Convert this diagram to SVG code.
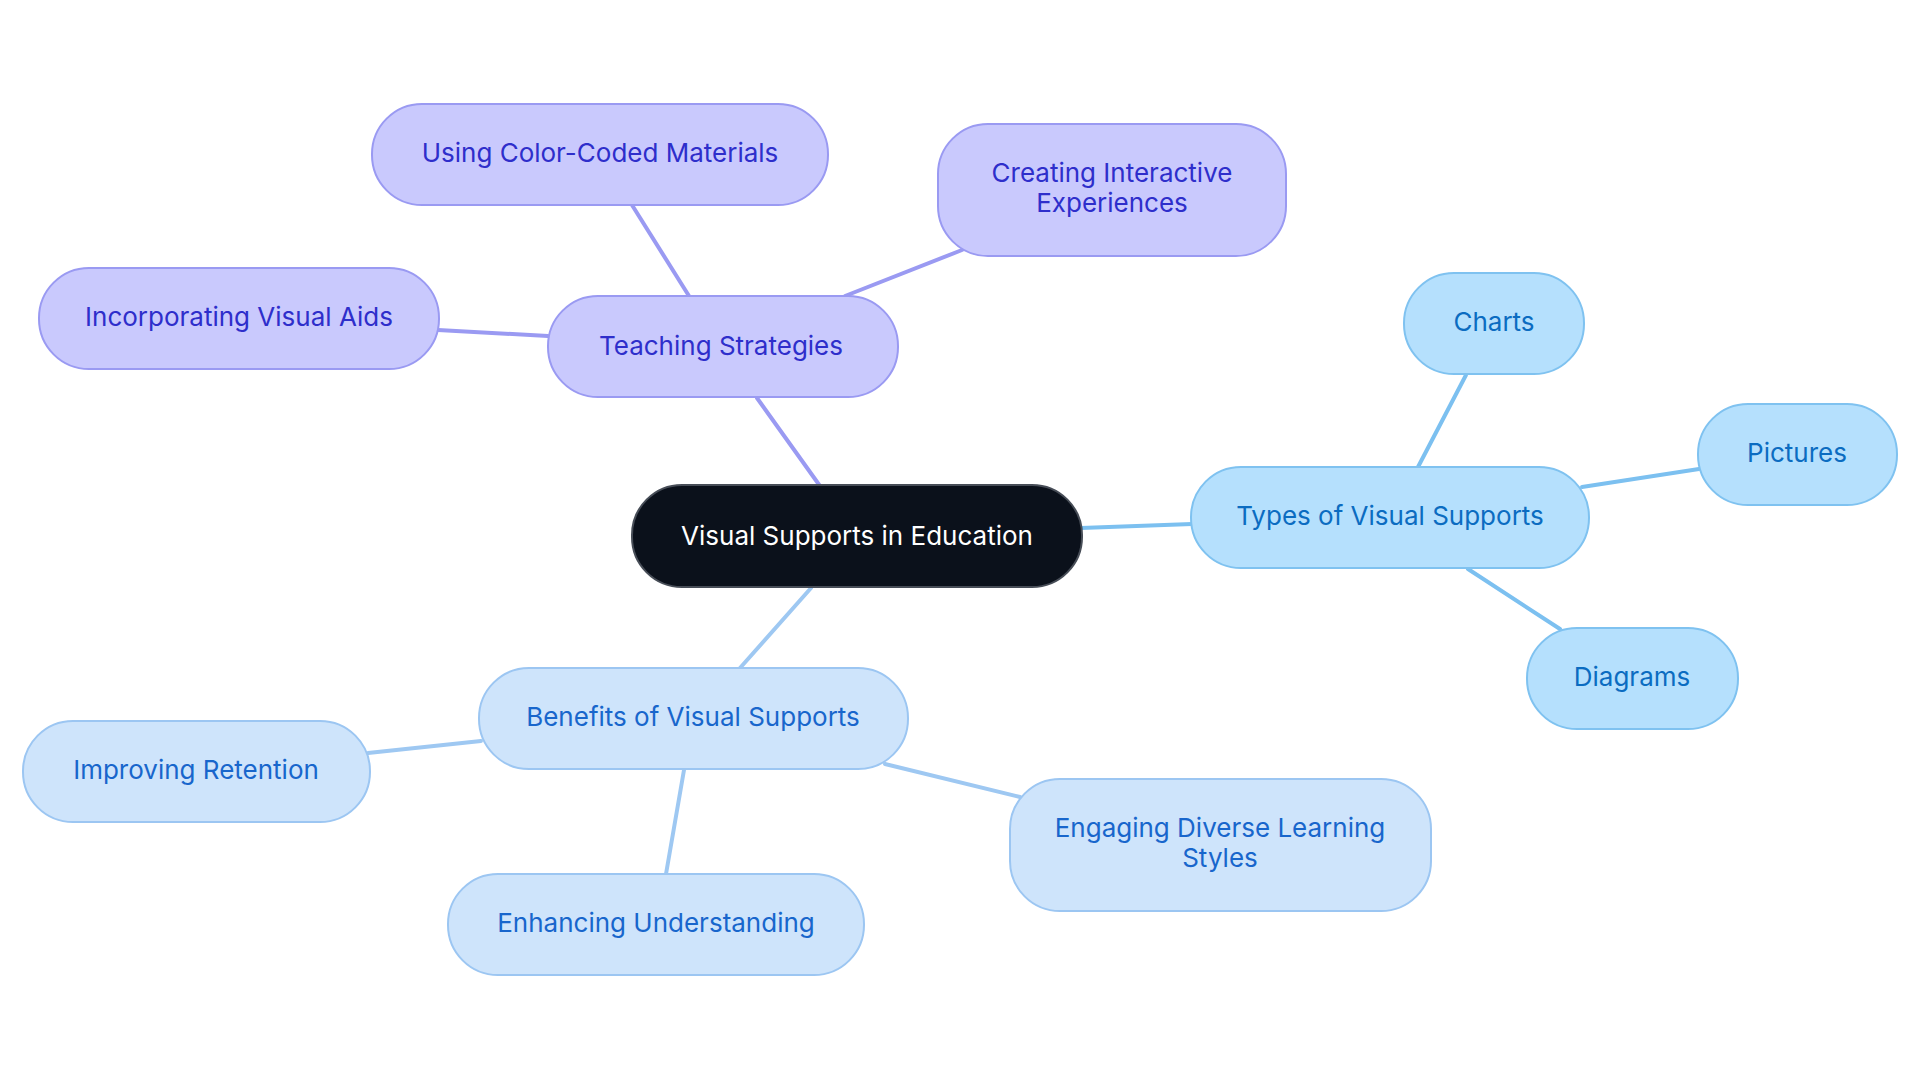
<svg xmlns="http://www.w3.org/2000/svg" width="1920" height="1083" viewBox="0 0 1920 1083">
<style>
text{font-family:Inter,"Noto Sans",sans-serif;font-size:26px;text-anchor:middle}
.c rect{fill:#0b111b;stroke:#474d57;stroke-width:2}
.c text{fill:#ffffff}
.p rect{fill:#c9c9fd;stroke:#9a9af2;stroke-width:2}
.p text{fill:#2e2ecb}
.t rect{fill:#b5e0fd;stroke:#7fc2f0;stroke-width:2}
.t text{fill:#0b6cc1}
.b rect{fill:#cee4fb;stroke:#9cc6f2;stroke-width:2}
.b text{fill:#1866cc}
.edges line{stroke-width:4;stroke-linecap:round}
.ep{stroke:#9a9af2}
.et{stroke:#7cc0f0}
.eb{stroke:#9ec8f2}
</style>
<rect width="1920" height="1083" fill="#ffffff"/>
<g class="edges">
<line class="ep" x1="820" y1="486" x2="757" y2="398"/>
<line class="ep" x1="689" y1="296" x2="632" y2="205"/>
<line class="ep" x1="845" y1="296" x2="962" y2="250"/>
<line class="ep" x1="548" y1="336" x2="438" y2="330"/>
<line class="et" x1="1081" y1="528" x2="1192" y2="524"/>
<line class="et" x1="1418" y1="467" x2="1466" y2="375"/>
<line class="et" x1="1582" y1="487" x2="1699" y2="469"/>
<line class="et" x1="1468" y1="569" x2="1560" y2="629"/>
<line class="eb" x1="811" y1="588" x2="740" y2="668"/>
<line class="eb" x1="481" y1="741" x2="368" y2="753"/>
<line class="eb" x1="684" y1="770" x2="666" y2="874"/>
<line class="eb" x1="885" y1="764" x2="1020" y2="797"/>
</g>
<g id="center" class="c"><rect x="632" y="485" width="450" height="102" rx="50"/><text x="857" y="545">Visual Supports in Education</text></g>
<g id="teaching" class="p"><rect x="548" y="296" width="350" height="101" rx="50"/><text x="721" y="355">Teaching Strategies</text></g>
<g id="using" class="p"><rect x="372" y="104" width="456" height="101" rx="50"/><text x="600" y="162">Using Color-Coded Materials</text></g>
<g id="creating" class="p"><rect x="938" y="124" width="348" height="132" rx="50"/><text x="1112" y="182">Creating Interactive</text><text x="1112" y="212">Experiences</text></g>
<g id="incorporating" class="p"><rect x="39" y="268" width="400" height="101" rx="50"/><text x="239" y="326">Incorporating Visual Aids</text></g>
<g id="types" class="t"><rect x="1191" y="467" width="398" height="101" rx="50"/><text x="1390" y="525">Types of Visual Supports</text></g>
<g id="charts" class="t"><rect x="1404" y="273" width="180" height="101" rx="50"/><text x="1494" y="331">Charts</text></g>
<g id="pictures" class="t"><rect x="1698" y="404" width="199" height="101" rx="50"/><text x="1797" y="462">Pictures</text></g>
<g id="diagrams" class="t"><rect x="1527" y="628" width="211" height="101" rx="50"/><text x="1632" y="686">Diagrams</text></g>
<g id="benefits" class="b"><rect x="479" y="668" width="429" height="101" rx="50"/><text x="693" y="726">Benefits of Visual Supports</text></g>
<g id="improving" class="b"><rect x="23" y="721" width="347" height="101" rx="50"/><text x="196" y="779">Improving Retention</text></g>
<g id="enhancing" class="b"><rect x="448" y="874" width="416" height="101" rx="50"/><text x="656" y="932">Enhancing Understanding</text></g>
<g id="engaging" class="b"><rect x="1010" y="779" width="421" height="132" rx="50"/><text x="1220" y="837">Engaging Diverse Learning</text><text x="1220" y="867">Styles</text></g>
</svg>
